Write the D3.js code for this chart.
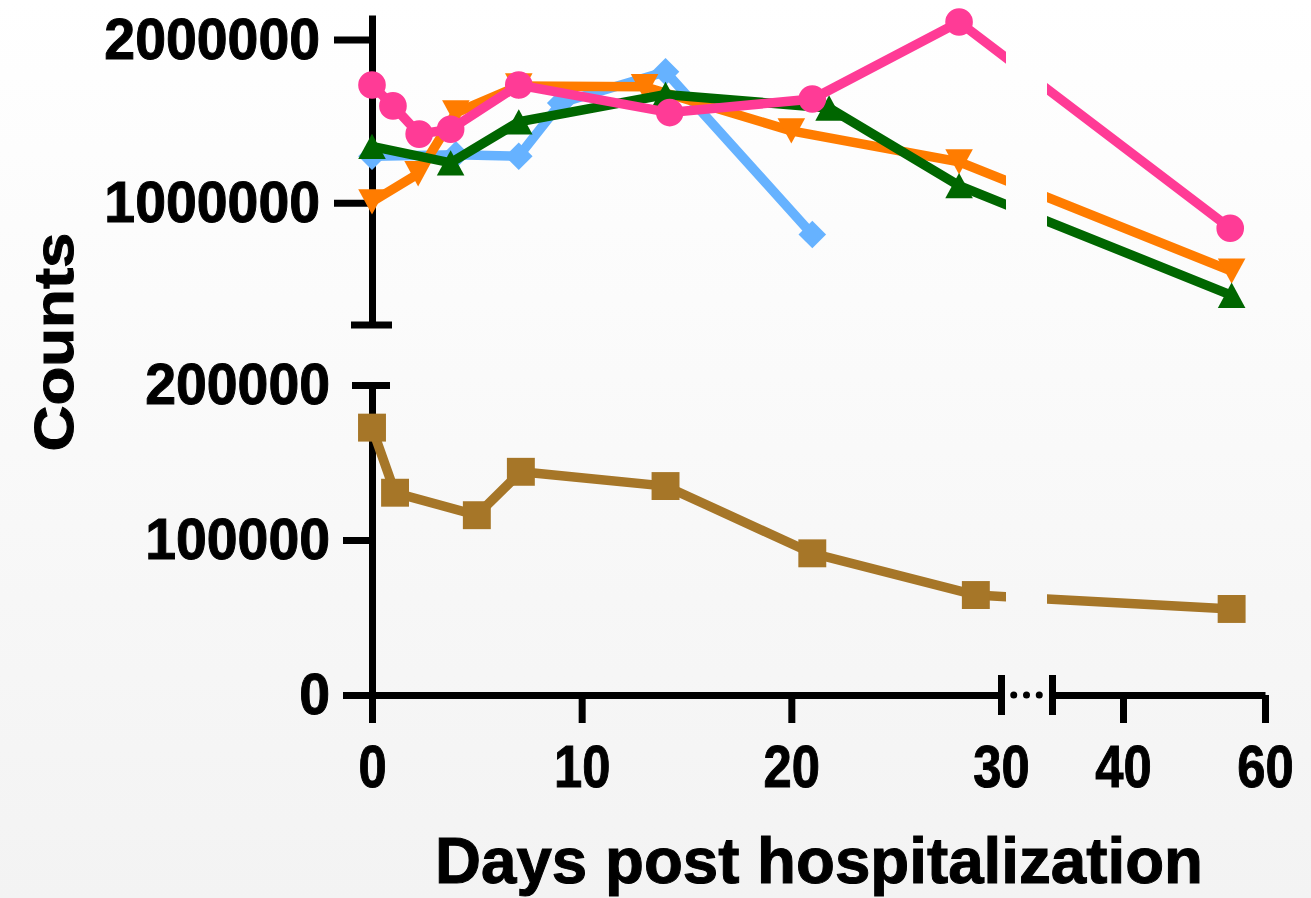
<!DOCTYPE html>
<html lang="en">
<head>
<meta charset="UTF-8">
<title>Counts by days post hospitalization</title>
<script src="https://d3js.org/d3.v7.min.js"></script>
<style>
  body { margin: 0; }
  svg { display: block; font-family: "Liberation Sans", Arial, sans-serif; font-weight: bold; }
  svg text { stroke: #000; stroke-width: 1px; }
</style>
</head>
<body>
<div id="chart"></div>
<script>
  // values (days, counts)
  const blueDays = [0, 4, 7, 9, 14, 21];
  const blueVals = [1284000, 1293000, 1284000, 1611000, 1802000, 805000];

  const orangeDays = [0, 2.2, 4, 7, 13, 20, 28, 55.3];
  const orangeVals = [1005000, 1177000, 1550000, 1715000, 1710000, 1440000, 1250000, 580000];

  const greenDays = [0, 3.75, 7, 14, 21.8, 28, 55.3];
  const greenVals = [1345000, 1244000, 1495000, 1663000, 1580000, 1104000, 432000];

  const pinkDays = [0, 1, 2.25, 3.75, 7, 14.2, 21, 28, 55.1];
  const pinkVals = [1721000, 1593000, 1420000, 1450000, 1721000, 1552000, 1635000, 2107000, 843000];

  const brownDays = [0, 1.1, 5, 7.1, 14, 21, 28.8, 55.3];
  const brownVals = [172500, 130500, 116000, 144000, 134800, 91400, 64500, 55500];

  const yTopTicks = [1000000, 2000000];
  const yBotTicks = [0, 100000, 200000];
  const xLeftTicks = [0, 10, 20, 30];
  const xRightTicks = [30, 40, 60];

  const width = 1311, height = 898;
  const axisW = 7;

  const svg = d3.select("#chart").append("svg")
    .attr("width", width)
    .attr("height", height);

  const defs = svg.append("defs");
  const grad = defs.append("linearGradient")
    .attr("id", "bg").attr("x1", 0).attr("y1", 0).attr("x2", 0).attr("y2", 1);
  grad.append("stop").attr("offset", "0%").attr("stop-color", "#ffffff");
  grad.append("stop").attr("offset", "100%").attr("stop-color", "#f3f3f3");
  svg.append("rect").attr("width", width).attr("height", height).attr("fill", "url(#bg)");

  // broken scales
  const xLeft = d3.scaleLinear().domain([0, 30]).range([372, 1001]);
  const xRight = d3.scaleLinear().domain([30, 60]).range([1052, 1265]);
  const xPos = d => d <= 30 ? xLeft(d) : xRight(d);
  const yTop = d3.scaleLinear().domain([250000, 2150000]).range([325, 15]);
  const yBot = d3.scaleLinear().domain([0, 200000]).range([695, 385]);

  // gap in the lines where the x axis breaks
  const clip = defs.append("clipPath").attr("id", "gap");
  clip.append("rect").attr("x", 0).attr("y", 0).attr("width", 1006).attr("height", height);
  clip.append("rect").attr("x", 1047).attr("y", 0).attr("width", width - 1047).attr("height", height);

  function styleAxis(g) {
    g.selectAll("path, line").attr("stroke", "#000").attr("stroke-width", axisW);
    g.selectAll("text").attr("fill", "#000");
  }

  // slightly condensed tick labels on the y axis
  function yLabels(g) {
    g.selectAll("text")
      .style("font-size", "58px")
      .each(function () {
        const w = this.getComputedTextLength();
        d3.select(this).attr("textLength", w * 0.955).attr("lengthAdjust", "spacingAndGlyphs");
      });
  }

  // y axis, top part
  const gTop = svg.append("g")
    .attr("transform", "translate(372,0)")
    .call(d3.axisLeft(yTop).tickValues(yTopTicks).tickSize(38).tickSizeOuter(0)
      .tickPadding(14).tickFormat(d3.format("d")));
  gTop.call(styleAxis).call(yLabels);
  gTop.append("line")
    .attr("x1", -21).attr("x2", 20)
    .attr("y1", yTop(250000)).attr("y2", yTop(250000))
    .attr("stroke", "#000").attr("stroke-width", axisW);

  // y axis, bottom part
  const gBot = svg.append("g")
    .attr("transform", "translate(372,0)")
    .call(d3.axisLeft(yBot).tickValues(yBotTicks).tickSize(29).tickSizeOuter(0)
      .tickPadding(13).tickFormat(d3.format("d")));
  gBot.call(styleAxis).call(yLabels);
  gBot.selectAll(".tick").filter(d => d === 200000).select("line")
    .attr("x1", 18).attr("x2", -20);

  // x axis, left part
  const gXL = svg.append("g")
    .attr("transform", "translate(0,695)")
    .call(d3.axisBottom(xLeft).tickValues(xLeftTicks).tickSize(28).tickSizeOuter(0));
  gXL.call(styleAxis);
  gXL.selectAll("text")
    .style("font-size", "59px")
    .attr("y", 92).attr("dy", null)
    .attr("transform", "scale(0.86,1)");
  gXL.selectAll(".tick").filter(d => d === 30).select("line")
    .attr("y1", -20).attr("y2", 20);

  // x axis, right part
  const gXR = svg.append("g")
    .attr("transform", "translate(0,695)")
    .call(d3.axisBottom(xRight).tickValues(xRightTicks).tickSize(28).tickSizeOuter(0));
  gXR.call(styleAxis);
  gXR.selectAll("text")
    .style("font-size", "59px")
    .attr("y", 92).attr("dy", null)
    .attr("transform", "scale(0.86,1)");
  gXR.selectAll(".tick").filter(d => d === 30).select("line")
    .attr("y1", -20).attr("y2", 20);
  gXR.selectAll(".tick").filter(d => d === 30).select("text").remove();

  // break dots
  const bx0 = xLeft(30), bx1 = xRight(30);
  svg.append("g").selectAll("circle")
    .data([1, 2, 3])
    .join("circle")
    .attr("cx", i => bx0 + i * (bx1 - bx0) / 4)
    .attr("cy", 695)
    .attr("r", 3.5)
    .attr("fill", "#000");

  // symbols, centred on their bounding box
  const triUp = {
    draw(ctx, size) {
      const s = Math.sqrt(size);
      ctx.moveTo(0, -s * 0.46);
      ctx.lineTo(s / 2, s * 0.46);
      ctx.lineTo(-s / 2, s * 0.46);
      ctx.closePath();
    }
  };
  const triDown = {
    draw(ctx, size) {
      const s = Math.sqrt(size);
      ctx.moveTo(0, s * 0.46);
      ctx.lineTo(s / 2, -s * 0.46);
      ctx.lineTo(-s / 2, -s * 0.46);
      ctx.closePath();
    }
  };

  const series = [
    { days: blueDays, vals: blueVals, color: "#66b2ff", y: yTop, type: d3.symbolSquare, size: 380, rot: 45 },
    { days: orangeDays, vals: orangeVals, color: "#ff7c00", y: yTop, type: triDown, size: 760, rot: 0 },
    { days: greenDays, vals: greenVals, color: "#006600", y: yTop, type: triUp, size: 760, rot: 0 },
    { days: pinkDays, vals: pinkVals, color: "#ff3b96", y: yTop, type: d3.symbolCircle, size: 600, rot: 0 },
    { days: brownDays, vals: brownVals, color: "#a67628", y: yBot, type: d3.symbolSquare, size: 780, rot: 0 }
  ];

  series.forEach(s => {
    const pts = s.days.map((d, i) => [d, s.vals[i]]);
    const line = d3.line().x(p => xPos(p[0])).y(p => s.y(p[1]));
    const g = svg.append("g");
    g.append("path")
      .datum(pts)
      .attr("clip-path", "url(#gap)")
      .attr("fill", "none")
      .attr("stroke", s.color)
      .attr("stroke-width", 9.5)
      .attr("d", line);
    g.selectAll("path.pt")
      .data(pts)
      .join("path")
      .attr("class", "pt")
      .attr("transform", p => `translate(${xPos(p[0])},${s.y(p[1])}) rotate(${s.rot})`)
      .attr("d", d3.symbol().type(s.type).size(s.size))
      .attr("fill", s.color);
  });

  // axis titles
  svg.append("text")
    .attr("transform", "translate(73,342) rotate(-90)")
    .attr("text-anchor", "middle")
    .attr("textLength", 219)
    .attr("lengthAdjust", "spacingAndGlyphs")
    .style("font-size", "55px")
    .text("Counts");

  svg.append("text")
    .attr("x", 435)
    .attr("y", 883)
    .attr("textLength", 768)
    .attr("lengthAdjust", "spacingAndGlyphs")
    .style("font-size", "64px")
    .text("Days post hospitalization");
</script>
</body>
</html>
